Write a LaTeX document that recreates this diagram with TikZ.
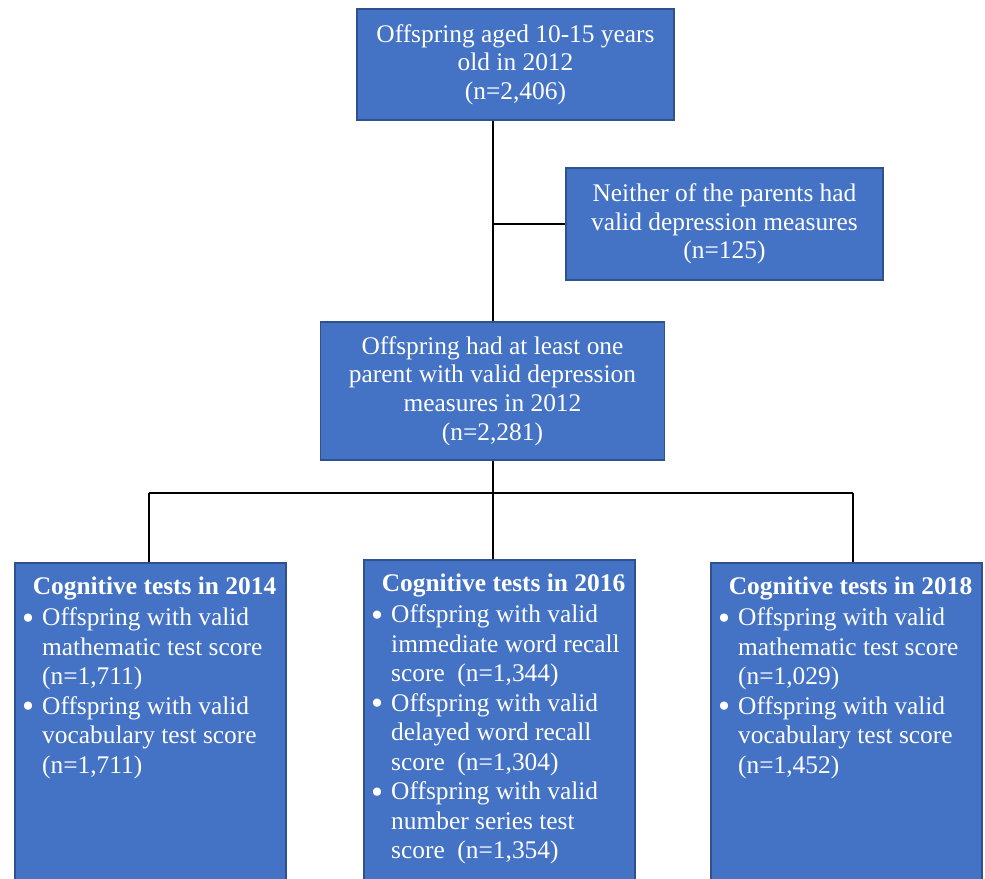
\documentclass[tikz,border=0pt]{standalone}
\usepackage{fontspec}
\setmainfont{Liberation Serif}
\definecolor{boxfill}{HTML}{4472C4}
\definecolor{boxedge}{HTML}{2F528F}
\newcommand{\fcbul}{\llap{\raisebox{-3.5pt}{\scalebox{1.35}{\textbullet}}\hspace{8pt}}}
\begin{document}
\begin{tikzpicture}[x=1pt,y=-1pt,
  box/.style={draw=boxedge, fill=boxfill, line width=1.5pt, inner sep=0pt,
    text=white, align=center, font=\fontsize{25.4}{28.7}\selectfont},
  ttl/.style={text=white, inner sep=0pt, font=\fontsize{25.4}{29.5}\selectfont\bfseries, anchor=base},
  items/.style={text=white, inner sep=0pt, align=left, anchor=north west, font=\fontsize{25.4}{29.5}\selectfont},
  conn/.style={line width=2pt, black}]
\useasboundingbox (0,0) rectangle (985,878);
\clip (0,0) rectangle (985,878);
\fill[white] (0,0) rectangle (985,878);

\node[box, minimum width=317pt, minimum height=111pt] (top) at (515.5,64.5)
  {Offspring aged 10-15 years\\old in 2012\\(n=2,406)};
\node[box, minimum width=317pt, minimum height=112pt] (side) at (724.5,224)
  {Neither of the parents had\\valid depression measures\\(n=125)};
\node[box, minimum width=344pt, minimum height=138pt] (mid) at (492.5,391)
  {Offspring had at least one\\parent with valid depression\\measures in 2012\\(n=2,281)};

\node[box, minimum width=271pt, minimum height=330pt, anchor=north] (lbox) at (150.5,562) {};
\node[box, minimum width=271pt, minimum height=330pt, anchor=north] (cbox) at (499.5,559) {};
\node[box, minimum width=271pt, minimum height=330pt, anchor=north] (rbox) at (846.5,562) {};

\node[ttl] (lttl) at (154.5,594) {Cognitive tests in 2014};
\node[ttl] (cttl) at (503.5,591) {Cognitive tests in 2016};
\node[ttl] (rttl) at (850.5,594) {Cognitive tests in 2018};

\node[items] (litems) at (42,607.5) {\fcbul Offspring with valid\\mathematic test score\\(n=1,711)\\\fcbul Offspring with valid\\vocabulary test score\\(n=1,711)};
\node[items] (citems) at (391,604.5) {\fcbul Offspring with valid\\immediate word recall\\score\ \ (n=1,344)\\\fcbul Offspring with valid\\delayed word recall\\score\ \ (n=1,304)\\\fcbul Offspring with valid\\number series test\\score\ \ (n=1,354)};
\node[items] (ritems) at (738,607.5) {\fcbul Offspring with valid\\mathematic test score\\(n=1,029)\\\fcbul Offspring with valid\\vocabulary test score\\(n=1,452)};

\coordinate (bL) at (149,493);
\coordinate (bR) at (853,493);
\draw[conn] (mid.north |- top.south) -- (mid.north);
\draw[conn] (mid.north |- side.west) -- (side.west);
\draw[conn] (mid.south) -- (mid.south |- cbox.north);
\draw[conn] (bL) -- (bR);
\draw[conn] (bL) -- (bL |- lbox.north);
\draw[conn] (bR) -- (bR |- rbox.north);
\end{tikzpicture}
\end{document}
